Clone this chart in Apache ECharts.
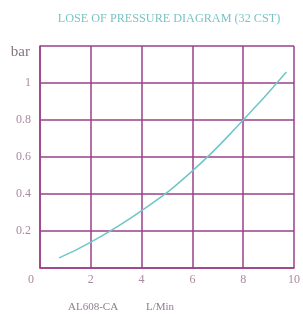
<!DOCTYPE html>
<html>
<head>
<meta charset="utf-8">
<script src="https://cdn.jsdelivr.net/npm/echarts@6/dist/echarts.min.js"></script>
<style>
  html, body { margin: 0; padding: 0; background: #fff; }
  #chart { width: 303px; height: 314px; }
</style>
</head>
<body>
<div id="chart"></div>
<script>
// flow (L/Min) and pressure loss (bar)
var flow = [0.75, 2, 4, 6, 8, 9.7]
var loss = [0.055, 0.14, 0.31, 0.525, 0.8, 1.06]
var xTicks = [0, 2, 4, 6, 8, 10]
var yTicks = [0, 0.2, 0.4, 0.6, 0.8, 1, 1.2]

var gridColor = '#9b3f88'
var labelColor = '#a98aa1'
var serif = '"Liberation Serif", "DejaVu Serif", serif'

var points = []
for (var i = 0; i < flow.length; i++) {
  points.push([flow[i], loss[i]])
}

var dom = echarts.init(document.getElementById('chart'))
var option = {
  animation: false,
  title: [
    {
      text: 'LOSE OF PRESSURE DIAGRAM (32 CST)',
      left: 164,
      top: 8,
      textAlign: 'center',
      textStyle: {
        fontFamily: serif,
        fontSize: 12.2,
        fontWeight: 400,
        color: '#7cc3c6'
      }
    },
    {
      text: 'AL608-CA',
      left: 68,
      top: 302,
      padding: 0,
      textStyle: {
        fontFamily: serif,
        fontSize: 11,
        fontWeight: 400,
        color: '#8f8090'
      }
    },
    {
      text: 'L/Min',
      left: 146,
      top: 302,
      padding: 0,
      textStyle: {
        fontFamily: serif,
        fontSize: 11,
        fontWeight: 400,
        color: '#8f8090'
      }
    }
  ],
  grid: {
    left: 40,
    right: 5,
    top: 46,
    bottom: 46,
    containLabel: false
  },
  xAxis: {
    type: 'value',
    min: xTicks[0],
    max: xTicks[xTicks.length - 1],
    interval: 2,
    axisLine: { show: true, lineStyle: { color: gridColor, width: 1.5 } },
    axisTick: { show: false },
    splitLine: { show: true, lineStyle: { color: gridColor, width: 1.5 } },
    axisLabel: {
      margin: 6,
      fontFamily: serif,
      fontSize: 12,
      color: labelColor,
      formatter: function (v) {
        return v === 0 ? '{z|0}' : String(v)
      },
      rich: {
        z: { fontFamily: serif, fontSize: 12, color: labelColor, padding: [0, 18, 0, 0] }
      }
    }
  },
  yAxis: {
    type: 'value',
    min: yTicks[0],
    max: yTicks[yTicks.length - 1],
    interval: 0.2,
    name: 'bar',
    nameLocation: 'end',
    nameGap: -14,
    nameTextStyle: {
      fontFamily: serif,
      fontSize: 15,
      color: '#857582',
      align: 'right',
      padding: [0, 10, 0, 0]
    },
    axisLine: { show: true, lineStyle: { color: gridColor, width: 1.5 } },
    axisTick: { show: false },
    splitLine: { show: true, lineStyle: { color: gridColor, width: 1.5 } },
    axisLabel: {
      margin: 9,
      fontFamily: serif,
      fontSize: 12,
      color: labelColor,
      formatter: function (v) {
        if (v === 0 || v >= 1.2) return ''
        return String(v)
      }
    }
  },
  series: [
    {
      type: 'line',
      data: points,
      smooth: true,
      showSymbol: false,
      lineStyle: { color: '#6fc6ca', width: 1.5 }
    }
  ]
}
dom.setOption(option)
</script>
</body>
</html>
